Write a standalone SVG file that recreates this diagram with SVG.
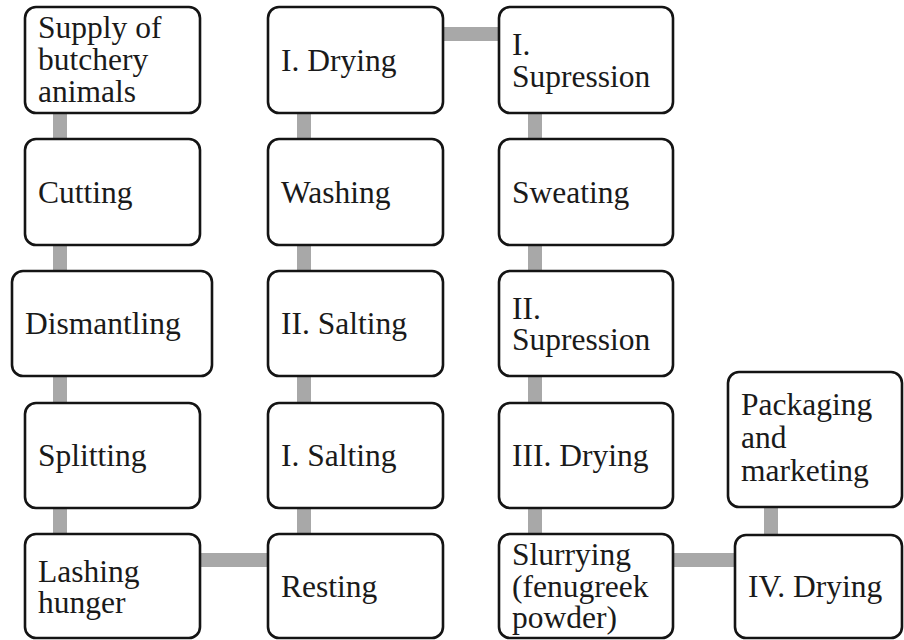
<svg xmlns="http://www.w3.org/2000/svg" width="904" height="640" viewBox="0 0 904 640">
<style>
.box{fill:#fff;stroke:#141414;stroke-width:2.6}
.t{font-family:"Liberation Serif","Times New Roman",serif;font-size:31.5px;fill:#1a1a1a}
.c{stroke:#a8a8a8;stroke-width:14;fill:none}
</style>
<rect width="904" height="640" fill="#fff"/>
<g id="connectors">
<line class="c" x1="60" y1="113" x2="60" y2="139"/>
<line class="c" x1="60" y1="245" x2="60" y2="271"/>
<line class="c" x1="60" y1="376" x2="60" y2="403"/>
<line class="c" x1="60" y1="508" x2="60" y2="534"/>
<line class="c" x1="200" y1="560" x2="268" y2="560"/>
<line class="c" x1="304" y1="508" x2="304" y2="534"/>
<line class="c" x1="304" y1="376" x2="304" y2="403"/>
<line class="c" x1="304" y1="245" x2="304" y2="271"/>
<line class="c" x1="304" y1="113" x2="304" y2="139"/>
<line class="c" x1="443" y1="34" x2="499" y2="34"/>
<line class="c" x1="535" y1="113" x2="535" y2="139"/>
<line class="c" x1="535" y1="245" x2="535" y2="271"/>
<line class="c" x1="535" y1="376" x2="535" y2="403"/>
<line class="c" x1="535" y1="508" x2="535" y2="534"/>
<line class="c" x1="673" y1="560" x2="735" y2="560"/>
<line class="c" x1="771" y1="507" x2="771" y2="535"/>
</g>
<g id="supply"><rect class="box" x="25" y="7" width="175" height="106" rx="11"/>
<text class="t" x="38" y="38">Supply of</text><text class="t" x="38" y="70">butchery</text><text class="t" x="38" y="102">animals</text></g>
<g id="cutting"><rect class="box" x="25" y="139" width="175" height="106" rx="11"/>
<text class="t" x="38" y="203">Cutting</text></g>
<g id="dismantling"><rect class="box" x="12" y="271" width="200" height="105" rx="11"/>
<text class="t" x="25" y="334">Dismantling</text></g>
<g id="splitting"><rect class="box" x="25" y="403" width="175" height="105" rx="11"/>
<text class="t" x="38" y="466">Splitting</text></g>
<g id="lashing"><rect class="box" x="25" y="534" width="175" height="104" rx="11"/>
<text class="t" x="38" y="582">Lashing</text><text class="t" x="38" y="613">hunger</text></g>
<g id="resting"><rect class="box" x="268" y="534" width="175" height="104" rx="11"/>
<text class="t" x="281" y="597">Resting</text></g>
<g id="salting1"><rect class="box" x="268" y="403" width="175" height="105" rx="11"/>
<text class="t" x="281" y="466">I. Salting</text></g>
<g id="salting2"><rect class="box" x="268" y="271" width="175" height="105" rx="11"/>
<text class="t" x="281" y="334">II. Salting</text></g>
<g id="washing"><rect class="box" x="268" y="139" width="175" height="106" rx="11"/>
<text class="t" x="281" y="203">Washing</text></g>
<g id="drying1"><rect class="box" x="268" y="7" width="175" height="106" rx="11"/>
<text class="t" x="281" y="71">I. Drying</text></g>
<g id="supression1"><rect class="box" x="499" y="7" width="174" height="106" rx="11"/>
<text class="t" x="512" y="55">I.</text><text class="t" x="512" y="87">Supression</text></g>
<g id="sweating"><rect class="box" x="499" y="139" width="174" height="106" rx="11"/>
<text class="t" x="512" y="203">Sweating</text></g>
<g id="supression2"><rect class="box" x="499" y="271" width="174" height="105" rx="11"/>
<text class="t" x="512" y="319">II.</text><text class="t" x="512" y="350">Supression</text></g>
<g id="drying3"><rect class="box" x="499" y="403" width="174" height="105" rx="11"/>
<text class="t" x="512" y="466">III. Drying</text></g>
<g id="slurrying"><rect class="box" x="499" y="534" width="174" height="104" rx="11"/>
<text class="t" x="512" y="565">Slurrying</text><text class="t" x="512" y="597">(fenugreek</text><text class="t" x="512" y="628">powder)</text></g>
<g id="drying4"><rect class="box" x="735" y="535" width="167" height="103" rx="11"/>
<text class="t" x="748" y="597">IV. Drying</text></g>
<g id="packaging"><rect class="box" x="728" y="372" width="174" height="135" rx="11"/>
<text class="t" x="741" y="415">Packaging</text><text class="t" x="741" y="448">and</text><text class="t" x="741" y="481">marketing</text></g>
</svg>
